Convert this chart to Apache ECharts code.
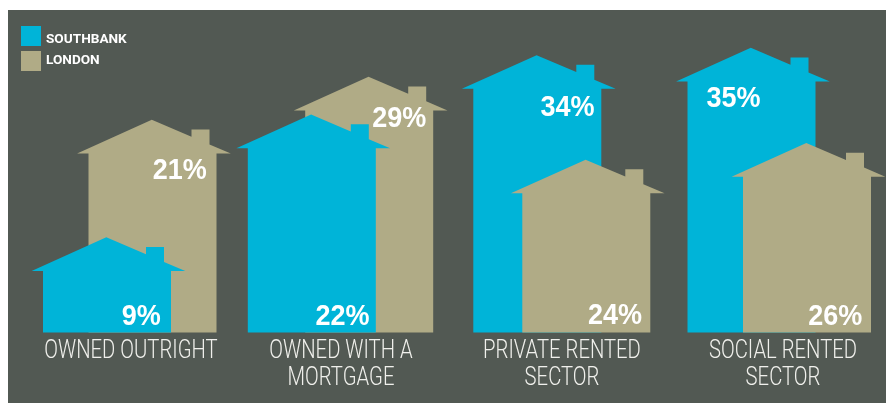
<!DOCTYPE html>
<html><head><meta charset="utf-8">
<style>html,body{margin:0;padding:0;background:#fff}#c{position:absolute;left:8px;top:10px;width:878px;height:393px}</style>
<script src="https://cdn.jsdelivr.net/npm/echarts@6/dist/echarts.min.js"></script>
</head><body><div id="c"></div>
<script>
// Data
const categories = ['OWNED OUTRIGHT', 'OWNED WITH A\nMORTGAGE', 'PRIVATE RENTED\nSECTOR', 'SOCIAL RENTED\nSECTOR'];
const seriesNames = ['SOUTHBANK', 'LONDON'];
// The percentages printed on the houses
const southbankPct = [9, 22, 34, 35];
const londonPct = [21, 29, 24, 26];
// The houses as drawn in the source are not proportional to their printed percentages;
// these are the drawn heights, in units where the 35% house = 35.
const southbankHeight = [11.7, 26.8, 34.1, 35];
const londonHeight = [26.15, 31.45, 21.25, 23.3];

// Layout (pixels), per category
const CAT_SHIFT = [4.5, -2.5, 1.5, 5.5];
const HOUSE_DX = { SOUTHBANK: [-19.5, -31.7, -23.2, -26], LONDON: [26, 25.7, 25.8, 29.5] };
const LABEL_POS = {
  SOUTHBANK: [[34.3, 79], [30.7, 202], [30.2, 52.5], [-18, 50.8]],
  LONDON: [[27.2, 50.5], [30, 41.8], [28.7, 156.5], [28.3, 173.5]]
};
const Z = { SOUTHBANK: [10, 10, 5, 5], LONDON: [5, 5, 10, 10] };
const COLORS = { SOUTHBANK: '#00b4d8', LONDON: '#b0ab86' };

function houseShape(cx, top, base) {
  const roofY = top + 33.7;
  const slope = 33.7 / 79;
  const roofAt = dx => top + (dx + 0.7) * slope;
  return [
    [cx - 64, base], [cx - 64, roofY], [cx - 75.4, roofY], [cx - 0.7, top],
    [cx + 39, roofAt(39)], [cx + 39, top + 9.7], [cx + 57, top + 9.7], [cx + 57, roofAt(57)],
    [cx + 78.3, roofY], [cx + 64, roofY], [cx + 64, base]
  ];
}

function makeRender(name) {
  return function (params, api) {
    const i = api.value(0);
    const p = api.coord([i, api.value(1)]);
    const b = api.coord([i, 0]);
    const cx = p[0] + HOUSE_DX[name][i];
    const lp = LABEL_POS[name][i];
    return {
      type: 'group',
      children: [
        { type: 'polygon', z2: Z[name][i], shape: { points: houseShape(cx, p[1], b[1]) },
          style: { fill: COLORS[name] } },
        { type: 'text', z2: 20, x: cx + lp[0], y: p[1] + lp[1], scaleX: 0.9,
          style: { text: api.value(2) + '%', fill: '#fff', align: 'center', verticalAlign: 'middle',
            font: 'bold 30px "Liberation Sans", sans-serif' } }
      ]
    };
  };
}

function series(name, heights, pcts) {
  return {
    name, type: 'custom', renderItem: makeRender(name),
    itemStyle: { color: COLORS[name] },
    encode: { x: 0, y: 1 },
    data: heights.map((h, i) => [i, h, pcts[i]])
  };
}

// Category captions: condensed light type, so drawn as scaled text under each category
function renderCaption(params, api) {
  const i = api.value(0);
  const b = api.coord([i, 0]);
  return {
    type: 'group',
    children: categories[i].split('\n').map((line, k) => ({
      type: 'text', x: b[0] + CAT_SHIFT[i], y: b[1] + 19.5 + 27 * k, scaleX: 0.81,
      style: { text: line, fill: '#f0f0ec', align: 'center', verticalAlign: 'middle',
        font: '300 25px Roboto, sans-serif' }
    }))
  };
}

const legendText = { color: '#fff', fontFamily: 'Roboto', fontWeight: 'bold', fontSize: 13.6 };
const chart = echarts.init(document.getElementById('c'), null, { renderer: 'canvas' });
chart.setOption({
  animation: false,
  backgroundColor: '#525953',
  legend: [
    { data: [seriesNames[0]], left: 13, top: 16, padding: 0, icon: 'rect', itemWidth: 20, itemHeight: 20,
      selectedMode: false, formatter: n => '{a|' + n + '}',
      textStyle: Object.assign({ rich: { a: Object.assign({ padding: [7, 0, 0, 0] }, legendText) } }, legendText) },
    { data: [seriesNames[1]], left: 13, top: 41, padding: 0, icon: 'rect', itemWidth: 20, itemHeight: 20,
      selectedMode: false, textStyle: legendText }
  ],
  grid: { left: 10, right: 0, top: 5.3, bottom: 70.5 },
  xAxis: {
    type: 'category', data: categories,
    axisLine: { show: false }, axisTick: { show: false }, axisLabel: { show: false }
  },
  yAxis: { type: 'value', min: 0, max: 39, show: false, splitLine: { show: false } },
  series: [
    series(seriesNames[1], londonHeight, londonPct),
    series(seriesNames[0], southbankHeight, southbankPct),
    { name: 'captions', type: 'custom', renderItem: renderCaption, encode: { x: 0, y: 1 }, silent: true,
      clip: false, data: categories.map((c, i) => [i, 0]) }
  ]
});
</script></body></html>
